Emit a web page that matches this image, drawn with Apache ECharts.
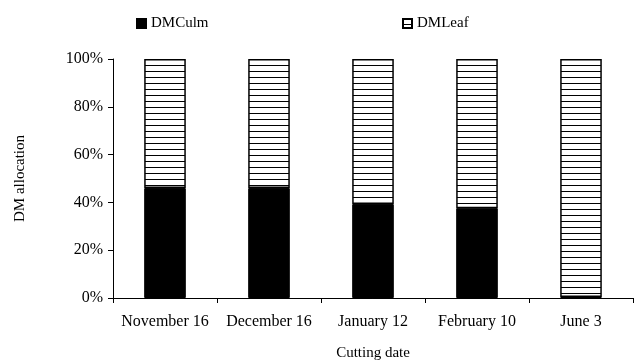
<!DOCTYPE html>
<html>
<head>
<meta charset="utf-8">
<script src="https://cdn.jsdelivr.net/npm/echarts@6/dist/echarts.min.js"></script>
<style>
  html, body { margin: 0; padding: 0; background: #fff; }
  #chart { width: 636px; height: 364px; }
</style>
</head>
<body>
<div id="chart"></div>
<script>
const cuttingDates = ["November 16", "December 16", "January 12", "February 10", "June 3"];
const dmCulm = [46, 46, 39.3, 37.6, 0.4];
const dmLeaf = [54, 54, 60.7, 62.4, 99.6];
const yTicks = [0, 20, 40, 60, 80, 100];

// horizontal hatch used for the leaf fraction
function hatch() {
  const c = document.createElement("canvas");
  c.width = 6;
  c.height = 6;
  const ctx = c.getContext("2d");
  ctx.fillStyle = "#fff";
  ctx.fillRect(0, 0, 6, 6);
  ctx.fillStyle = "#000";
  ctx.fillRect(0, 5, 6, 1.2);
  return c;
}

const font = "'Liberation Serif', 'DejaVu Serif', serif";
const legendText = { fontFamily: font, fontSize: 15, color: "#000" };
const chart = echarts.init(document.getElementById("chart"), null, { renderer: "canvas" });
chart.setOption({
  backgroundColor: "#fff",
  animation: false,
  textStyle: { fontFamily: font, color: "#000" },
  legend: [
    { left: 131, top: 11, itemWidth: 9, itemHeight: 9, textStyle: legendText, data: [{ name: "DMCulm", icon: "rect" }] },
    { left: 397, top: 11, itemWidth: 9, itemHeight: 9, textStyle: legendText, data: [{ name: "DMLeaf", icon: "rect" }] },
  ],
  grid: { left: 113, right: 3, top: 59, bottom: 66, containLabel: false, outerBoundsMode: "none" },
  xAxis: {
    type: "category",
    data: cuttingDates,
    name: "Cutting date",
    nameLocation: "middle",
    nameGap: 48,
    nameTextStyle: { fontFamily: font, fontSize: 15, color: "#000" },
    axisLine: { lineStyle: { color: "#000", width: 1 } },
    axisTick: { show: true, length: 5, lineStyle: { color: "#000" } },
    axisLabel: { fontFamily: font, fontSize: 16, color: "#000", margin: 16, interval: 0, hideOverlap: false },
  },
  yAxis: {
    type: "value",
    min: 0,
    max: 100,
    interval: 20,
    name: "DM allocation",
    nameLocation: "middle",
    nameGap: 85,
    nameTextStyle: { fontFamily: font, fontSize: 15, color: "#000" },
    axisLine: { show: true, lineStyle: { color: "#000", width: 1 } },
    axisTick: { show: true, length: 5, lineStyle: { color: "#000" } },
    splitLine: { show: false },
    axisLabel: {
      fontFamily: font,
      fontSize: 16,
      color: "#000",
      margin: 10,
      formatter: (v) => (yTicks.includes(v) ? v + "%" : ""),
    },
  },
  series: [
    {
      name: "DMCulm",
      type: "bar",
      stack: "dm",
      barWidth: "40%",
      data: dmCulm,
      itemStyle: { color: "#000", borderColor: "#000", borderWidth: 1 },
    },
    {
      name: "DMLeaf",
      type: "bar",
      stack: "dm",
      barWidth: "40%",
      data: dmLeaf,
      itemStyle: {
        color: { image: hatch(), repeat: "repeat" },
        borderColor: "#000",
        borderWidth: 1.5,
      },
    },
  ],
});
</script>
</body>
</html>
